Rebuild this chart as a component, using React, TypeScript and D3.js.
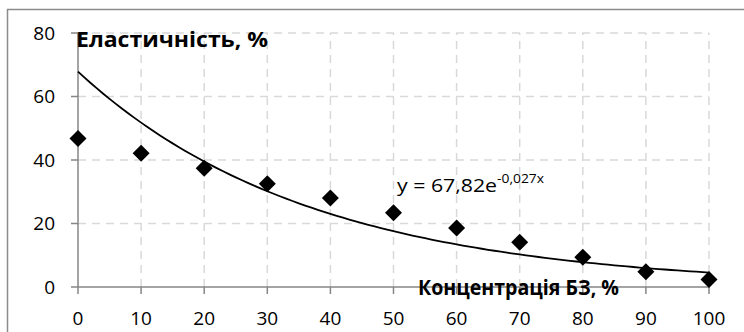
import * as d3 from "d3";

const width = 744;
const height = 332;
const marginLeft = 78;
const marginRight = 35;
const marginTop = 33;
const marginBottom = 45;

// концентрація БЗ, %
const concentration = [0, 10, 20, 30, 40, 50, 60, 70, 80, 90, 100];
// еластичність, %
const elasticity = [46.8, 42.1, 37.4, 32.5, 28.0, 23.4, 18.6, 14.1, 9.4, 4.8, 2.4];
const xTicks = [0, 10, 20, 30, 40, 50, 60, 70, 80, 90, 100];
const yTicks = [0, 20, 40, 60, 80];
// trend y = a * e^(b x)
const trendA = 67.82;
const trendB = -0.027;

const font = "'Open Sans', sans-serif";
const axisColor = "#868686";
const gridColor = "#d9d9d9";

const App = () => {
  const x = d3.scaleLinear([0, 100], [marginLeft, width - marginRight]);
  const y = d3.scaleLinear([0, 80], [height - marginBottom, marginTop]);
  const trend = d3
    .line<number>()
    .x((d) => x(d))
    .y((d) => y(trendA * Math.exp(trendB * d)))(d3.range(0, 100.5, 1)) as string;
  const r = 8.5;

  return (
    <svg
      width={width}
      height={height}
      style={{ position: "absolute", left: 0, top: 0, background: "white" }}
      fontFamily={font}
    >
      <rect x={7.5} y={9.5} width={width + 20} height={height + 20} fill="white" stroke="#8c8c8c" strokeWidth={1.5} />

      {/* grid */}
      <g stroke={gridColor} strokeWidth={1.5} strokeDasharray="8,6">
        {yTicks.filter((t) => t > 0).map((t) => (
          <line key={t} x1={x(0)} x2={x(100)} y1={y(t)} y2={y(t)} />
        ))}
        {xTicks.filter((t) => t > 0).map((t) => (
          <line key={t} x1={x(t)} x2={x(t)} y1={y(0)} y2={y(80)} />
        ))}
      </g>

      {/* axes */}
      <g stroke={axisColor} strokeWidth={1.5}>
        <line x1={x(0)} x2={x(0)} y1={y(80)} y2={y(0)} />
        <line x1={x(0)} x2={x(100)} y1={y(0)} y2={y(0)} />
        {yTicks.map((t) => (
          <line key={"y" + t} x1={x(0) - 7} x2={x(0)} y1={y(t)} y2={y(t)} />
        ))}
        {xTicks.map((t) => (
          <line key={"x" + t} x1={x(t)} x2={x(t)} y1={y(0)} y2={y(0) + 7} />
        ))}
      </g>

      <g fontSize={19} fill="#000">
        {yTicks.map((t) => (
          <text key={t} x={55} y={y(t)} dy="0.36em" textAnchor="end">
            {t}
          </text>
        ))}
        {xTicks.map((t) => (
          <text key={t} x={x(t)} y={325} textAnchor="middle">
            {t}
          </text>
        ))}
      </g>

      <path d={trend} fill="none" stroke="#000" strokeWidth={1.8} />

      <g fill="#000">
        {concentration.map((c, i) => {
          const cx = x(c);
          const cy = y(elasticity[i]);
          return (
            <path
              key={i}
              d={`M${cx - r},${cy}L${cx},${cy - r}L${cx + r},${cy}L${cx},${cy + r}Z`}
            />
          );
        })}
      </g>

      <text x={76} y={47} fontSize={21} fontWeight="bold" textLength={192} lengthAdjust="spacingAndGlyphs">
        Еластичність, %
      </text>
      <text x={418} y={295} fontSize={21} fontWeight="bold" textLength={201} lengthAdjust="spacingAndGlyphs">
        Концентрація БЗ, %
      </text>
      <text x={397} y={192} fontSize={19}>
        <tspan textLength={100} lengthAdjust="spacingAndGlyphs">y = 67,82e</tspan>
        <tspan fontSize={12} dy={-9} textLength={47} lengthAdjust="spacingAndGlyphs">
          -0,027x
        </tspan>
      </text>
    </svg>
  );
};

export default App;
